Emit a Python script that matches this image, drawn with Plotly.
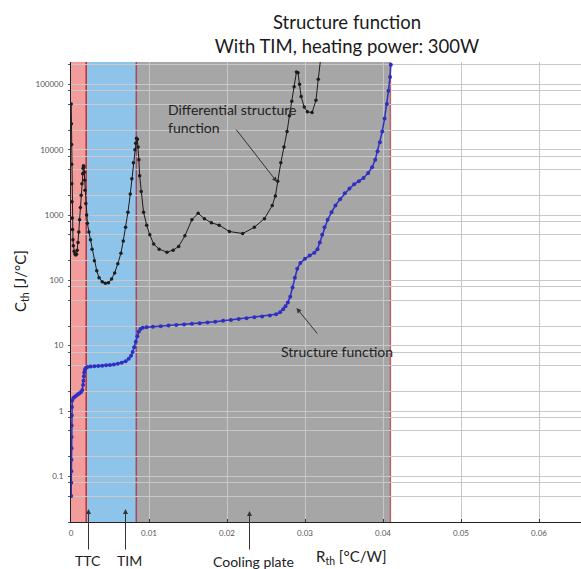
import math
import plotly.graph_objects as go

# ---- data ----
sf_rth = [0.00002, 0.00003, 0.00004, 0.00005, 0.00006, 0.00007, 0.00008, 0.0001, 0.00012, 0.00015,
          0.0003, 0.0005, 0.0007, 0.0009, 0.0011, 0.0013, 0.00145, 0.00155, 0.0016, 0.00165,
          0.0017, 0.00178, 0.0019, 0.0021, 0.0025, 0.003, 0.0035, 0.004, 0.0045, 0.005,
          0.0055, 0.006, 0.0065, 0.007, 0.0074, 0.0077, 0.0079, 0.0081, 0.0083, 0.0085,
          0.0087, 0.0089, 0.0092, 0.0097, 0.0105, 0.0115, 0.0125, 0.0135, 0.0145, 0.0155,
          0.0165, 0.0175, 0.0185, 0.0195, 0.0205, 0.0215, 0.0225, 0.0235, 0.0245, 0.0255,
          0.0263, 0.0268, 0.0272, 0.0275, 0.0278, 0.0281, 0.0284, 0.0287, 0.029, 0.0294,
          0.03, 0.0306, 0.0312, 0.0316, 0.0319, 0.0322, 0.0325, 0.0329, 0.0334, 0.0339,
          0.0345, 0.0351, 0.0357, 0.0363, 0.0369, 0.0375, 0.0381, 0.0386, 0.039, 0.0393,
          0.0396, 0.0399, 0.0402, 0.0405, 0.0407, 0.0409, 0.041]
sf_cth = [0.05, 0.08, 0.12, 0.18, 0.27, 0.4, 0.6, 0.85, 1.15, 1.45,
          1.58, 1.65, 1.72, 1.8, 1.87, 1.95, 2.1, 2.5, 2.9, 3.4,
          3.9, 4.3, 4.55, 4.7, 4.8, 4.85, 4.9, 4.95, 5.0, 5.05,
          5.15, 5.3, 5.5, 5.8, 6.3, 7.0, 8.0, 9.5, 11.5, 14,
          16.5, 18, 18.8, 19.2, 19.5, 19.9, 20.3, 20.7, 21.1, 21.6,
          22.1, 22.7, 23.3, 24, 24.8, 25.6, 26.4, 27.2, 28, 28.9,
          30.2, 32.5, 36, 40, 46, 56, 78, 110, 150, 185,
          215, 240, 265, 300, 380, 500, 650, 850, 1100, 1400,
          1750, 2150, 2550, 2950, 3300, 3700, 4400, 5400, 7000, 9500,
          13000, 19000, 30000, 50000, 80000, 130000, 200000]

dsf_rth = [0.00003, 0.00005, 0.00007, 0.00009, 0.00011, 0.00013, 0.00016, 0.0002, 0.00025, 0.0003,
           0.0004, 0.0005, 0.0006, 0.0007, 0.0008, 0.0009, 0.001, 0.0011, 0.0012, 0.0013,
           0.0014, 0.0015, 0.00155, 0.0016, 0.00165, 0.0017, 0.00175, 0.0018, 0.0019, 0.002,
           0.0021, 0.0023, 0.0025, 0.0027, 0.003, 0.0033, 0.0036, 0.004, 0.0044, 0.0048,
           0.0052, 0.0056, 0.006, 0.0064, 0.0067, 0.007, 0.0073, 0.0076, 0.0078, 0.008,
           0.0082, 0.0083, 0.0084, 0.0085, 0.0086, 0.0087, 0.0088, 0.009, 0.0093, 0.0097,
           0.0101, 0.0106, 0.0113, 0.0123, 0.0131, 0.0138, 0.0146, 0.0155, 0.0163, 0.0171,
           0.018, 0.019, 0.0203, 0.022, 0.0235, 0.0248, 0.0258, 0.0262, 0.0265, 0.0269,
           0.0273, 0.0277, 0.028, 0.0283, 0.0286, 0.0289, 0.0291, 0.0293, 0.0295, 0.0299,
           0.0303, 0.0309, 0.0314, 0.0317, 0.032, 0.0323]
dsf_cth = [50000, 25000, 12000, 6000, 3000, 1600, 900, 600, 420, 340,
           280, 255, 245, 250, 290, 380, 550, 850, 1300, 2000,
           3000, 4300, 5200, 5700, 5500, 4500, 3400, 2400, 1500, 1000,
           750, 550, 420, 300, 200, 140, 110, 95, 90, 92,
           105, 130, 180, 260, 400, 650, 1100, 2100, 3600, 6300,
           10000, 12500, 15000, 14500, 11000, 7000, 4000, 2300, 1100, 700,
           500, 360, 300, 270, 290, 330, 480, 850, 1060, 880,
           760, 700, 560, 520, 650, 880, 1400, 1960, 3300, 6300,
           11000, 19000, 33000, 55000, 92000, 155000, 150000, 100000, 65000, 45000,
           38000, 37000, 57000, 120000, 250000, 500000]

# region boundaries (Rth, degC/W)
region_edges = [0.0, 0.00195, 0.00837, 0.04094]
region_names = ["TTC", "TIM", "Cooling plate"]

x_ticks = [0, 0.01, 0.02, 0.03, 0.04, 0.05, 0.06]
x_ticktext = ["0", "0.01", "0.02", "0.03", "0.04", "0.05", "0.06"]
y_decades = [0.1, 1, 10, 100, 1000, 10000, 100000]
y_ticktext = ["0.1", "1", "10", "100", "1000", "10000", "100000"]

FONT = "Lato"

# grid positions on y: 1, 2, 5, 8 per decade
y_gridvals = []
for e in range(-2, 6):
    for m in (1, 2, 5, 8):
        y_gridvals.append(m * 10 ** e)
y_gridtext = []
for v in y_gridvals:
    match = [t for d, t in zip(y_decades, y_ticktext) if abs(v - d) < 1e-9 * max(d, 1)]
    y_gridtext.append(match[0] if match else "")

fig = go.Figure()

fig.add_trace(go.Scatter(
    x=dsf_rth, y=dsf_cth, mode="lines+markers", name="Differential structure function",
    line=dict(color="#1c1c1c", width=1), marker=dict(color="#1c1c1c", size=3.5),
    showlegend=False))
fig.add_trace(go.Scatter(
    x=sf_rth, y=sf_cth, mode="lines+markers", name="Structure function",
    line=dict(color="#2f2fc0", width=1.5), marker=dict(color="#2f2fc0", size=4),
    showlegend=False))

# coloured regions (below gridlines)
region_colors = ["#F29C9C", "#8EC3EA", "#A6A6A6"]
for i, c in enumerate(region_colors):
    fig.add_shape(type="rect", xref="x", yref="paper", x0=region_edges[i], x1=region_edges[i + 1],
                  y0=0, y1=1, fillcolor=c, line=dict(width=0), layer="below")
edge_colors = ["#C82A2A", "#A04868", "#C0606A"]
for xe, c in zip(region_edges[1:], edge_colors):
    fig.add_shape(type="line", xref="x", yref="paper", x0=xe, x1=xe, y0=0, y1=1,
                  line=dict(color=c, width=1.5), layer="between")

# plot geometry helpers (pixels -> coordinates)
L, T, W, H = 71, 62, 510, 460
def px2x(px):
    return (px - L) / W * 0.06538
def py2p(py):
    return (T + H - py) / H

ann = []
# bottom labels with arrows
ann.append(dict(x=px2x(88.5), y=py2p(509), xref="x", yref="paper", text="", showarrow=True,
                ax=0, ay=42, arrowhead=2, arrowsize=1, arrowwidth=1, arrowcolor="#333"))
ann.append(dict(x=px2x(125.5), y=py2p(509), xref="x", yref="paper", text="", showarrow=True,
                ax=0, ay=42, arrowhead=2, arrowsize=1, arrowwidth=1, arrowcolor="#333"))
ann.append(dict(x=px2x(249.5), y=py2p(511), xref="x", yref="paper", text="", showarrow=True,
                ax=0, ay=40, arrowhead=2, arrowsize=1, arrowwidth=1, arrowcolor="#333"))
for name, cx, cy in zip(region_names, [88, 129.5, 253], [560, 560, 561]):
    ann.append(dict(x=px2x(cx), y=py2p(cy), xref="x", yref="paper", text=name, showarrow=False,
                    xanchor="center", yanchor="middle", font=dict(family=FONT, size=14, color="#222")))

# curve labels
ann.append(dict(x=px2x(166), y=py2p(99), xref="x", yref="paper",
                text="Differential structure<br>function", showarrow=False, align="left",
                xanchor="left", yanchor="top", font=dict(family=FONT, size=14, color="#222")))
ann.append(dict(x=px2x(277), y=py2p(182), xref="x", yref="paper", text="", showarrow=True,
                ax=-42, ay=-54, arrowhead=2, arrowsize=1, arrowwidth=1, arrowcolor="#333"))
ann.append(dict(x=px2x(279), y=py2p(351), xref="x", yref="paper", text="Structure function",
                showarrow=False, xanchor="left", yanchor="middle",
                font=dict(family=FONT, size=14, color="#222")))
ann.append(dict(x=px2x(296.5), y=py2p(308), xref="x", yref="paper", text="", showarrow=True,
                ax=22, ay=27, arrowhead=2, arrowsize=1, arrowwidth=1, arrowcolor="#333"))

# axis titles
ann.append(dict(x=px2x(351), y=py2p(557), xref="x", yref="paper",
                text="R<sub>th</sub> [°C/W]", showarrow=False, xanchor="center", yanchor="middle",
                font=dict(family=FONT, size=15, color="#222")))
ann.append(dict(x=(21 - L) / W, y=py2p(281), xref="paper", yref="paper",
                text="C<sub>th</sub> [J/°C]", showarrow=False, textangle=-90,
                xanchor="center", yanchor="middle", font=dict(family=FONT, size=15, color="#222")))

fig.update_layout(
    width=581, height=569,
    margin=dict(l=L, r=581 - L - W, t=T, b=569 - T - H),
    paper_bgcolor="white", plot_bgcolor="white",
    title=dict(text="Structure function<br>With TIM, heating power: 300W",
               x=347 / 581, xref="container", xanchor="center",
               y=1 - 28.75 / 569, yref="container", yanchor="middle",
               font=dict(family=FONT, size=18.5, color="#1a1a1a")),
    annotations=ann,
    font=dict(family=FONT),
)

fig.update_xaxes(range=[0, 0.06538], tickmode="array", tickvals=x_ticks, ticktext=x_ticktext,
                 showgrid=True, gridcolor="#c8c8c8", gridwidth=1,
                 ticks="inside", ticklen=3, tickcolor="#333", ticklabelstandoff=3,
                 showline=True, linecolor="#222", linewidth=1, zeroline=False,
                 tickfont=dict(family=FONT, size=8, color="#555"))
fig.update_yaxes(type="log", range=[math.log10(0.02), math.log10(2.2e5)],
                 tickmode="array", tickvals=y_gridvals, ticktext=y_gridtext,
                 showgrid=True, gridcolor="#c8c8c8", gridwidth=1,
                 ticks="outside", ticklen=2, tickcolor="#555", ticklabelstandoff=3,
                 showline=True, linecolor="#222", linewidth=1, zeroline=False,
                 tickfont=dict(family=FONT, size=8, color="#555"))

fig.write_html("out.html", config={"displayModeBar": False},
               post_script="document.body.style.margin='0px';document.body.style.overflow='hidden';")
